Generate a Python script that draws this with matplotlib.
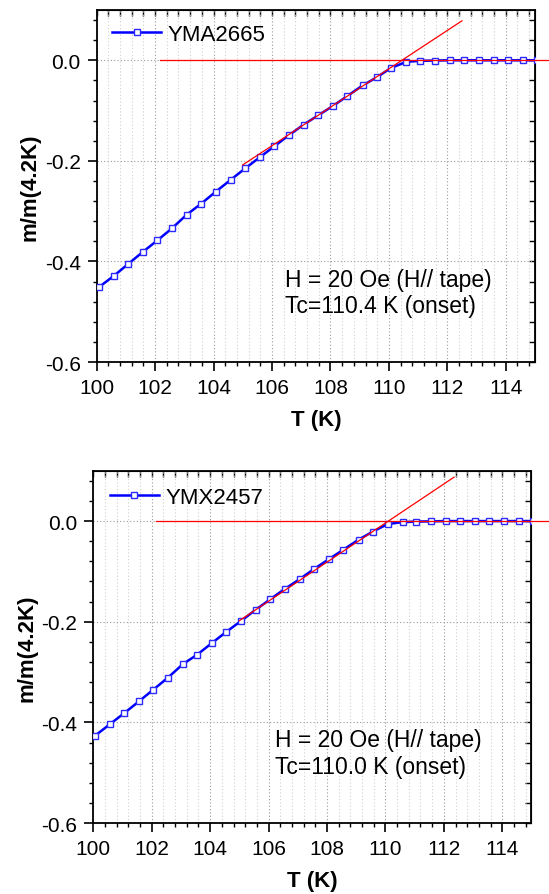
import matplotlib
matplotlib.use("Agg")
import matplotlib.pyplot as plt
from matplotlib.ticker import MultipleLocator, NullFormatter

plt.rcParams['font.family'] = ['Liberation Sans', 'DejaVu Sans']
plt.rcParams['axes.unicode_minus'] = False

# Sample YMA2665 (top panel)
T_top = [100.08, 100.58, 101.08, 101.58, 102.08, 102.58, 103.08, 103.58, 104.08, 104.58,
         105.08, 105.58, 106.08, 106.58, 107.08, 107.58, 108.08, 108.58, 109.10, 109.58,
         110.08, 110.60, 111.08, 111.58, 112.08, 112.58, 113.08, 113.58, 114.08, 114.58, 115.08]
m_top = [-0.451, -0.429, -0.405, -0.381, -0.358, -0.334, -0.307, -0.285, -0.261, -0.238,
         -0.215, -0.193, -0.171, -0.149, -0.128, -0.1095, -0.091, -0.071, -0.050, -0.034,
         -0.015, -0.003, -0.001, -0.0005, 0.0, 0.0, 0.0, 0.0, 0.0, 0.0, 0.0]
fit_T_top = [105.0, 112.5]
fit_m_top = [-0.208, 0.0785]
base_T_top = [102.15, 115.5]
base_m_top = [0.0, 0.0]

# Sample YMX2457 (bottom panel)
T_bot = [100.06, 100.56, 101.06, 101.56, 102.06, 102.56, 103.06, 103.56, 104.06, 104.56,
         105.06, 105.56, 106.06, 106.56, 107.06, 107.56, 108.06, 108.56, 109.08, 109.56,
         110.08, 110.60, 111.06, 111.56, 112.06, 112.56, 113.06, 113.56, 114.06, 114.56, 115.06]
m_bot = [-0.4265, -0.404, -0.3816, -0.3584, -0.3347, -0.3109, -0.2846, -0.2653, -0.2424, -0.2198,
         -0.1984, -0.1762, -0.1552, -0.1347, -0.1156, -0.0950, -0.0760, -0.0568, -0.0370, -0.0212,
         -0.0059, -0.0020, -0.001, -0.0005, 0.0, 0.0, 0.0, 0.0, 0.0, 0.0, 0.0]
fit_T_bot = [105.0, 112.35]
fit_m_bot = [-0.198, 0.0873]
base_T_bot = [102.15, 115.6]
base_m_bot = [0.0, 0.0]

fig = plt.figure(figsize=(5.49, 8.95), dpi=100)


def draw_panel(rect, T, m, fit_T, fit_m, base_T, base_m, name, note, leg_xy, note_xy):
    ax = fig.add_axes(rect)
    ax.set_xlim(100, 115)
    ax.set_ylim(-0.6, 0.1)

    # grid: light dotted on minor x, darker dotted on majors
    ax.xaxis.set_major_locator(MultipleLocator(2))
    ax.xaxis.set_minor_locator(MultipleLocator(0.4))
    ax.yaxis.set_major_locator(MultipleLocator(0.2))
    ax.yaxis.set_minor_locator(MultipleLocator(0.04))
    ax.grid(True, which='minor', axis='x', color='#d0d0d0', linestyle=(0, (1, 2)), linewidth=0.8)
    ax.grid(True, which='major', axis='both', color='#9a9a9a', linestyle=(0, (1, 2)), linewidth=0.8)
    ax.set_axisbelow(True)

    ax.plot(T, m, color='#0000ff', linewidth=1.8, marker='s', markersize=4.6,
            markerfacecolor='white', markeredgecolor='#2a2aff', markeredgewidth=1.0,
            label=name, zorder=3)
    ax.plot(fit_T, fit_m, color='#ff0000', linewidth=0.9, zorder=4)
    ax.plot(base_T, base_m, color='#ff0000', linewidth=0.9, zorder=4, clip_on=False)

    ax.tick_params(which='major', direction='out', length=6.5, width=1.2, labelsize=15, pad=5)
    ax.tick_params(which='minor', direction='out', length=3, width=1.0)
    ax.yaxis.set_major_formatter(plt.FuncFormatter(lambda v, p: f"{v:.1f}"))
    for s in ax.spines.values():
        s.set_linewidth(1.3)

    # mirrored inward ticks on top and right
    top = ax.secondary_xaxis('top')
    top.xaxis.set_major_locator(MultipleLocator(2))
    top.xaxis.set_minor_locator(MultipleLocator(0.4))
    top.tick_params(which='both', direction='in', length=4, width=1.0)
    top.xaxis.set_major_formatter(NullFormatter())
    right = ax.secondary_yaxis('right')
    right.yaxis.set_major_locator(MultipleLocator(0.2))
    right.yaxis.set_minor_locator(MultipleLocator(0.04))
    right.tick_params(which='both', direction='in', length=4, width=1.0)
    right.yaxis.set_major_formatter(NullFormatter())

    ax.set_xlabel('T (K)', fontsize=16, fontweight='bold', labelpad=9)
    ax.set_ylabel('m/m(4.2K)', fontsize=16, fontweight='bold', labelpad=3)

    ax.legend(loc='center left', bbox_to_anchor=leg_xy, frameon=False, fontsize=16,
              handlelength=2.2, handletextpad=0.3, borderpad=0, borderaxespad=0)
    ax.text(note_xy[0], note_xy[1], note, transform=ax.transAxes, fontsize=16.5,
            ha='left', va='center', linespacing=1.2)
    return ax


draw_panel([0.1761, 0.5944, 0.7984, 0.3933], T_top, m_top, fit_T_top, fit_m_top,
           base_T_top, base_m_top, 'YMA2665', 'H = 20 Oe (H// tape)\nTc=110.4 K (onset)',
           (0.036, 0.930), (0.43, 0.197))
draw_panel([0.1699, 0.0793, 0.7982, 0.3936], T_bot, m_bot, fit_T_bot, fit_m_bot,
           base_T_bot, base_m_bot, 'YMX2457', 'H = 20 Oe (H// tape)\nTc=110.0 K (onset)',
           (0.038, 0.925), (0.415, 0.199))

fig.savefig('out.png', dpi=100)
